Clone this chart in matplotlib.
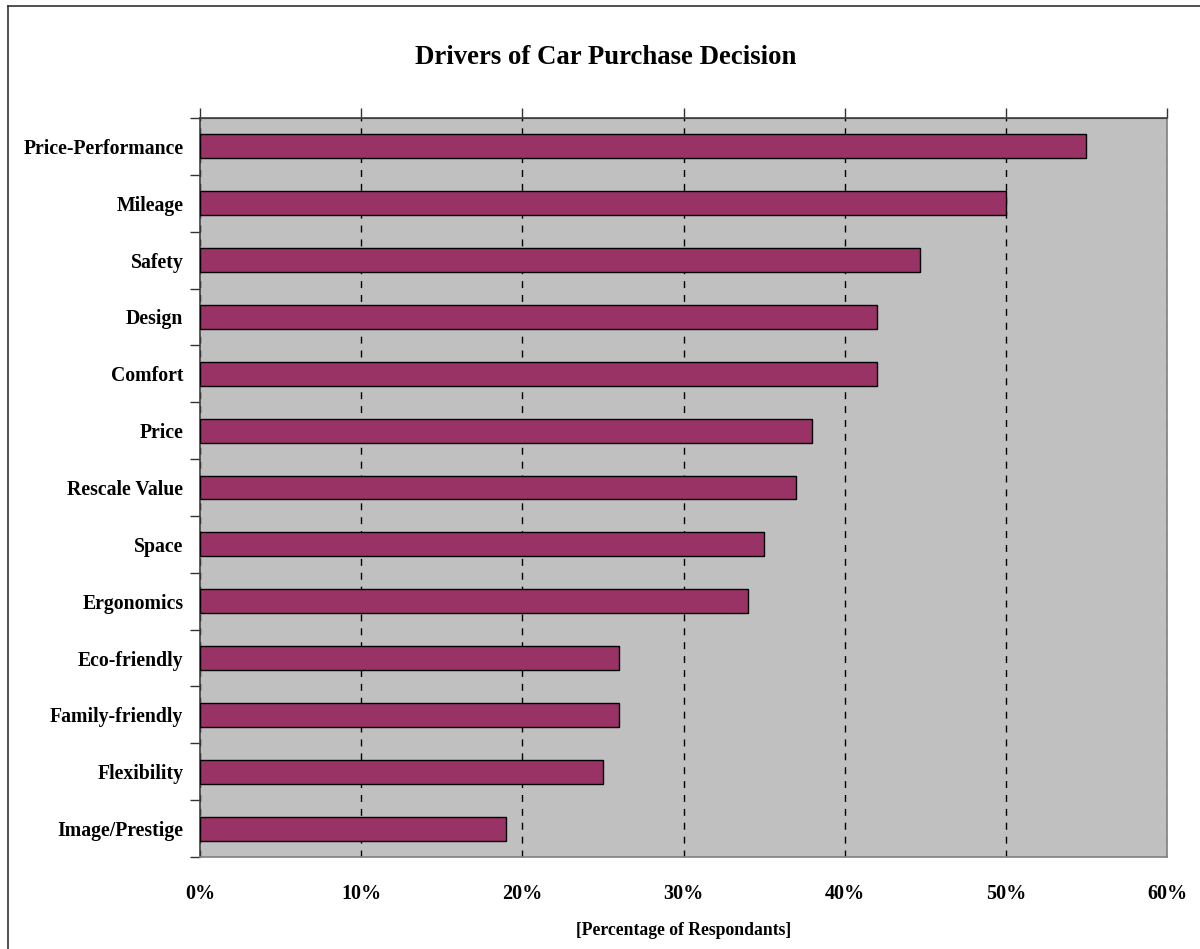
import matplotlib
matplotlib.use("Agg")
import matplotlib.pyplot as plt
from matplotlib.lines import Line2D
from matplotlib.ticker import FixedLocator, FuncFormatter
import numpy as np

categories = ["Price-Performance", "Mileage", "Safety", "Design", "Comfort", "Price",
              "Rescale Value", "Space", "Ergonomics", "Eco-friendly", "Family-friendly",
              "Flexibility", "Image/Prestige"]
values = [55, 50, 44.7, 42, 42, 38, 37, 35, 34, 26, 26, 25, 19]
xticks = [0, 10, 20, 30, 40, 50, 60]

plt.rcParams['font.family'] = ['Liberation Serif', 'DejaVu Serif']
plt.rcParams['font.weight'] = 'bold'

W, H = 1200, 949
fig = plt.figure(figsize=(W / 100, H / 100), dpi=100)
ax = fig.add_axes([200 / W, 1 - 857 / H, 967 / W, 739 / H])
ax.set_facecolor('#C0C0C0')

y = np.arange(len(categories))
ax.barh(y, values, height=0.42, color='#993366', edgecolor='black', linewidth=1.0, zorder=3)

ax.set_xlim(0, 60)
ax.set_ylim(len(categories) - 0.5, -0.5)

ax.xaxis.set_major_locator(FixedLocator(xticks))
ax.xaxis.set_major_formatter(FuncFormatter(lambda v, p: f"{int(v)}%"))
ax.tick_params(axis='x', length=0, pad=19.5, labelsize=14.5)
for t in ax.get_xticklabels():
    t.set_fontweight('bold')
ax.grid(axis='x', color='black', linestyle=(0, (5, 5)), linewidth=1.0, zorder=1)

ax.set_yticks(y)
ax.set_yticklabels(categories, fontsize=14.2, fontweight='bold')
ax.set_yticks(np.arange(len(categories) + 1) - 0.5, minor=True)
ax.tick_params(axis='y', which='major', length=0, pad=12)
ax.tick_params(axis='y', which='minor', length=7, width=1.0, color='#333333', direction='out')

top = ax.secondary_xaxis('top')
top.xaxis.set_major_locator(FixedLocator(xticks))
top.tick_params(axis='x', length=7, width=1.0, color='#333333', direction='out', labeltop=False)
top.spines['top'].set_color('#404040')

for s in ['left', 'top']:
    ax.spines[s].set_color('#404040')
    ax.spines[s].set_linewidth(1.2)
for s in ['right', 'bottom']:
    ax.spines[s].set_color('#808080')
    ax.spines[s].set_linewidth(1.2)

ax.set_xlabel('[Percentage of Respondants]', fontsize=12.7, fontweight='bold', labelpad=13)
fig.text(0.505, 1 - 58 / H, 'Drivers of Car Purchase Decision', ha='center', va='center',
         fontsize=19.3, fontweight='bold')

# outer chart border (left and top edges visible)
fig.add_artist(Line2D([7.5 / W, 7.5 / W], [0, 1 - 6 / H], transform=fig.transFigure,
                      color='#333333', linewidth=1.2))
fig.add_artist(Line2D([7.5 / W, 1], [1 - 6 / H, 1 - 6 / H], transform=fig.transFigure,
                      color='#333333', linewidth=1.2))

fig.savefig('out.png', dpi=100)
